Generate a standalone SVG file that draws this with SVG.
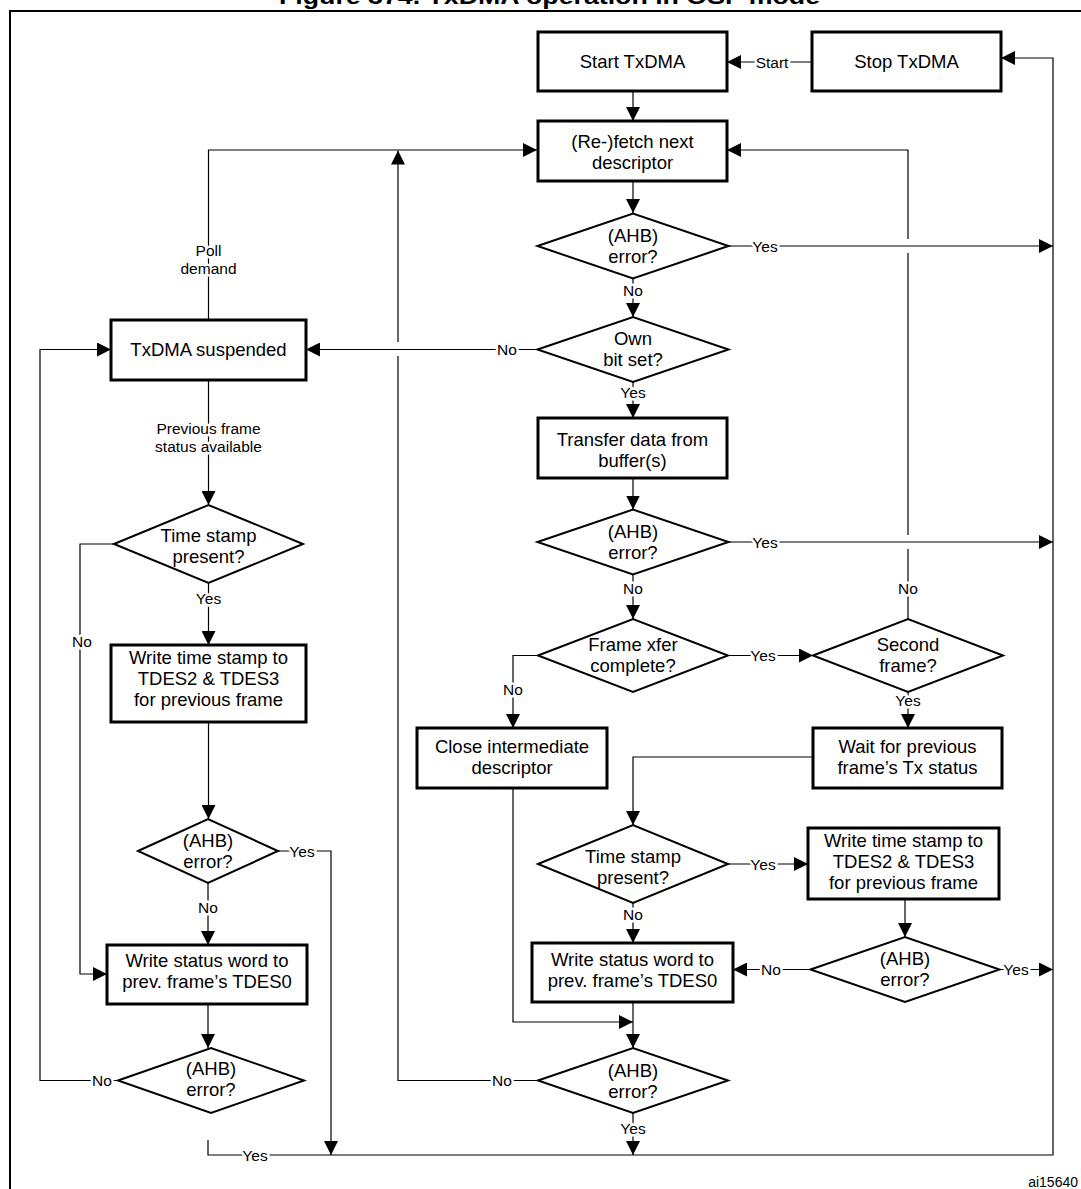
<svg xmlns="http://www.w3.org/2000/svg" width="1081" height="1189" viewBox="0 0 1081 1189">
<style>
.bg{fill:#fff}
.frame{fill:none;stroke:#000;stroke-width:2}
.box{fill:#fff;stroke:#000;stroke-width:3}
.dia{fill:#fff;stroke:#000;stroke-width:2}
.c{fill:none;stroke:#000;stroke-width:1.2}
.t{font-family:"Liberation Sans",Arial,sans-serif;font-size:18.5px;text-anchor:middle;fill:#000}
.l{font-family:"Liberation Sans",Arial,sans-serif;font-size:15.5px;text-anchor:middle;fill:#000;stroke:#fff;stroke-width:5;paint-order:stroke;stroke-linejoin:round}
.title{font-family:"Liberation Sans",Arial,sans-serif;font-size:22px;font-weight:bold;text-anchor:middle;fill:#000}
.id{font-family:"Liberation Sans",Arial,sans-serif;font-size:14px;text-anchor:end;fill:#000}
</style>
<defs>
<marker id="a" markerUnits="userSpaceOnUse" markerWidth="14" markerHeight="14" refX="14" refY="7" orient="auto">
<path d="M0,0 L14,7 L0,14 z" fill="#000"/>
</marker>
</defs>
<rect class="bg" x="0" y="0" width="1081" height="1189"/>
<text class="title" x="549.5" y="4" textLength="541" lengthAdjust="spacingAndGlyphs">Figure 374. TxDMA operation in OSF mode</text>
<path class="frame" d="M10,1189 V11 H1081"/>

<g id="connectors">
<path class="c" marker-end="url(#a)" d="M208,1140 V1155 H1053 V58 H1001"/>
<path class="c" marker-end="url(#a)" d="M812,62 H727"/>
<path class="c" marker-end="url(#a)" d="M633,91 V121"/>
<path class="c" marker-end="url(#a)" d="M633,181 V213"/>
<path class="c" marker-end="url(#a)" d="M728.5,246 H1053"/>
<path class="c" marker-end="url(#a)" d="M633,278.5 V317"/>
<path class="c" marker-end="url(#a)" d="M537.5,349.5 H306"/>
<path class="c" marker-end="url(#a)" d="M633,382 V418"/>
<path class="c" marker-end="url(#a)" d="M633,478 V509.5"/>
<path class="c" marker-end="url(#a)" d="M728.5,542 H1053"/>
<path class="c" marker-end="url(#a)" d="M633,574.5 V619"/>
<path class="c" marker-end="url(#a)" d="M728,655.5 H813"/>
<path class="c" marker-end="url(#a)" d="M538,655.5 H513 V728"/>
<path class="c" d="M908,619 V549"/>
<path class="c" d="M908,535 V253"/>
<path class="c" marker-end="url(#a)" d="M908,239 V150 H727"/>
<path class="c" marker-end="url(#a)" d="M908,692 V728"/>
<path class="c" marker-end="url(#a)" d="M813,757 H633 V825"/>
<path class="c" marker-end="url(#a)" d="M513,788 V1022 H633"/>
<path class="c" marker-end="url(#a)" d="M728,864 H808"/>
<path class="c" marker-end="url(#a)" d="M633,903 V943"/>
<path class="c" marker-end="url(#a)" d="M905,899 V937"/>
<path class="c" marker-end="url(#a)" d="M810.5,969.5 H733"/>
<path class="c" marker-end="url(#a)" d="M999.5,969.5 H1053"/>
<path class="c" marker-end="url(#a)" d="M633,1002 V1048"/>
<path class="c" d="M538,1080.5 H398 V356"/>
<path class="c" marker-end="url(#a)" d="M398,342 V150.5"/>
<path class="c" marker-end="url(#a)" d="M633,1113 V1155"/>
<path class="c" marker-end="url(#a)" d="M208.5,320 V150 H537"/>
<path class="c" marker-end="url(#a)" d="M208.5,380 V505"/>
<path class="c" marker-end="url(#a)" d="M208.5,583 V645"/>
<path class="c" marker-end="url(#a)" d="M114,544 H80 V974 H107"/>
<path class="c" marker-end="url(#a)" d="M208.5,722 V819"/>
<path class="c" marker-end="url(#a)" d="M278,851 H331 V1155"/>
<path class="c" marker-end="url(#a)" d="M208,883 V945"/>
<path class="c" marker-end="url(#a)" d="M208,1004 V1048"/>
<path class="c" marker-end="url(#a)" d="M118,1080.5 H40 V349.5 H111"/>
<text class="l" x="772" y="67.5">Start</text>
<text class="l" x="765" y="251.5">Yes</text>
<text class="l" x="633" y="295.5">No</text>
<text class="l" x="507" y="355">No</text>
<text class="l" x="633" y="397.5">Yes</text>
<text class="l" x="765" y="547.5">Yes</text>
<text class="l" x="633" y="593.5">No</text>
<text class="l" x="908" y="593.5">No</text>
<text class="l" x="763" y="661">Yes</text>
<text class="l" x="513" y="694.5">No</text>
<text class="l" x="908" y="705.5">Yes</text>
<text class="l" x="763" y="869.5">Yes</text>
<text class="l" x="633" y="919.5">No</text>
<text class="l" x="771" y="975">No</text>
<text class="l" x="1016" y="975">Yes</text>
<text class="l" x="502" y="1086">No</text>
<text class="l" x="633" y="1133.5">Yes</text>
<text class="l" x="208.5" y="256">Poll</text>
<text class="l" x="208.5" y="273.5">demand</text>
<text class="l" x="208.5" y="433.5">Previous frame</text>
<text class="l" x="208.5" y="451.5">status available</text>
<text class="l" x="208.5" y="603.5">Yes</text>
<text class="l" x="82" y="646.5">No</text>
<text class="l" x="302" y="856.5">Yes</text>
<text class="l" x="208" y="912.5">No</text>
<text class="l" x="102" y="1086">No</text>
<text class="l" x="255" y="1160.5">Yes</text>
</g>

<g id="start">
<rect class="box" x="538" y="32" width="189" height="59"/>
<text class="t" x="632.5" y="68">Start TxDMA</text>
</g>
<g id="stop">
<rect class="box" x="812" y="32" width="189" height="59"/>
<text class="t" x="906.5" y="68">Stop TxDMA</text>
</g>
<g id="refetch">
<rect class="box" x="538" y="121" width="189" height="60"/>
<text class="t" x="632.5" y="148">(Re-)fetch next</text>
<text class="t" x="632.5" y="169">descriptor</text>
</g>
<g id="ahb1">
<polygon class="dia" points="537.5,246 633,213.5 728.5,246 633,278.5"/>
<text class="t" x="633" y="241.5">(AHB)</text>
<text class="t" x="633" y="262.5">error?</text>
</g>
<g id="ownbit">
<polygon class="dia" points="537.5,349.5 633,317 728.5,349.5 633,382"/>
<text class="t" x="633" y="344.75">Own</text>
<text class="t" x="633" y="365.75">bit set?</text>
</g>
<g id="transfer">
<rect class="box" x="538" y="418" width="189" height="60"/>
<text class="t" x="632.5" y="445.5">Transfer data from</text>
<text class="t" x="632.5" y="466.5">buffer(s)</text>
</g>
<g id="ahb2">
<polygon class="dia" points="537.5,542 633,509.5 728.5,542 633,574.5"/>
<text class="t" x="633" y="537.5">(AHB)</text>
<text class="t" x="633" y="558.5">error?</text>
</g>
<g id="framexfer">
<polygon class="dia" points="538,655.5 633,619 728,655.5 633,692"/>
<text class="t" x="633" y="651">Frame xfer</text>
<text class="t" x="633" y="672">complete?</text>
</g>
<g id="secondframe">
<polygon class="dia" points="813,655.5 908,619 1003,655.5 908,692"/>
<text class="t" x="908" y="651">Second</text>
<text class="t" x="908" y="672">frame?</text>
</g>
<g id="closeint">
<rect class="box" x="417" y="728" width="190" height="60"/>
<text class="t" x="512" y="752.5">Close intermediate</text>
<text class="t" x="512" y="773.5">descriptor</text>
</g>
<g id="waitprev">
<rect class="box" x="813" y="728" width="189" height="60"/>
<text class="t" x="907.5" y="752.5">Wait for previous</text>
<text class="t" x="907.5" y="773.5">frame’s Tx status</text>
</g>
<g id="tsright">
<polygon class="dia" points="538,864 633,825 728,864 633,903"/>
<text class="t" x="633" y="863">Time stamp</text>
<text class="t" x="633" y="884">present?</text>
</g>
<g id="wtsright">
<rect class="box" x="808" y="828" width="191" height="71"/>
<text class="t" x="903.5" y="846.5">Write time stamp to</text>
<text class="t" x="903.5" y="867.5">TDES2 &amp; TDES3</text>
<text class="t" x="903.5" y="888.5">for previous frame</text>
</g>
<g id="ahb3">
<polygon class="dia" points="810.5,969.5 905,937 999.5,969.5 905,1002"/>
<text class="t" x="905" y="965">(AHB)</text>
<text class="t" x="905" y="986">error?</text>
</g>
<g id="wsright">
<rect class="box" x="532" y="943" width="201" height="59"/>
<text class="t" x="632.5" y="965.5">Write status word to</text>
<text class="t" x="632.5" y="986.5">prev. frame’s TDES0</text>
</g>
<g id="ahb4">
<polygon class="dia" points="538,1080.5 633,1048 728,1080.5 633,1113"/>
<text class="t" x="633" y="1077">(AHB)</text>
<text class="t" x="633" y="1098">error?</text>
</g>
<g id="suspended">
<rect class="box" x="111" y="320" width="195" height="60"/>
<text class="t" x="208.5" y="356">TxDMA suspended</text>
</g>
<g id="tsleft">
<polygon class="dia" points="114,544 208.5,505 303,544 208.5,583"/>
<text class="t" x="208.5" y="542">Time stamp</text>
<text class="t" x="208.5" y="563">present?</text>
</g>
<g id="wtsleft">
<rect class="box" x="111" y="645" width="195" height="77"/>
<text class="t" x="208.5" y="663.5">Write time stamp to</text>
<text class="t" x="208.5" y="684.5">TDES2 &amp; TDES3</text>
<text class="t" x="208.5" y="705.5">for previous frame</text>
</g>
<g id="ahb5">
<polygon class="dia" points="138,851 208,819 278,851 208,883"/>
<text class="t" x="208" y="846.5">(AHB)</text>
<text class="t" x="208" y="867.5">error?</text>
</g>
<g id="wsleft">
<rect class="box" x="107" y="945" width="200" height="59"/>
<text class="t" x="207" y="967">Write status word to</text>
<text class="t" x="207" y="988">prev. frame’s TDES0</text>
</g>
<g id="ahb6">
<polygon class="dia" points="118,1080.5 211,1048 304,1080.5 211,1113"/>
<text class="t" x="211" y="1074.5">(AHB)</text>
<text class="t" x="211" y="1095.5">error?</text>
</g>
<text class="id" x="1078" y="1187">ai15640</text>
</svg>
